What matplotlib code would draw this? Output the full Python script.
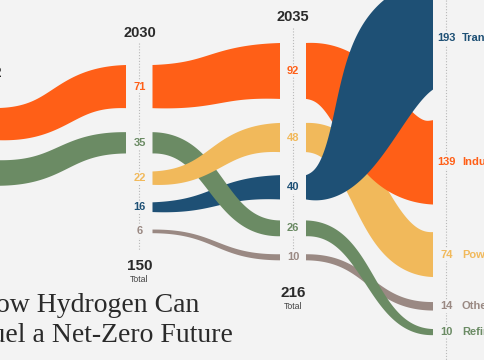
import matplotlib.pyplot as plt
import numpy as np
from matplotlib.patches import Polygon, Rectangle

# Hydrogen demand by sector (Mt), one value per year column, 0 = not shown
years = ["2022", "2030", "2035", "2050"]
sectors = ["Transport", "Industry", "Power", "Other", "Refining"]
transport = [0, 16, 40, 193]
industry = [53, 71, 92, 139]
power = [0, 22, 48, 74]
other = [0, 6, 10, 14]
refining = [42, 35, 26, 10]

values = {
    "Transport": transport,
    "Industry": industry,
    "Power": power,
    "Other": other,
    "Refining": refining,
}

colors = {
    "Transport": "#1e5075",
    "Industry": "#ff5f17",
    "Power": "#f1b95b",
    "Other": "#9a8983",
    "Refining": "#6b8b64",
}
BG = "#f3f3f3"
INK = "#2a2a2a"

# layout (pixels)
W, H = 485, 360
PX_PER_UNIT = 0.608
col_x = [-14, 139.5, 293, 446.5]
half_gap = 13
col_top = [108, 65, 43, -20.3]
col_gaps = [[20], [24, 18, 17.5, 17.5], [24, 23, 21, 18], [23, 27.5, 25, 18.5]]
year_y = [73, 33, 17, None]
dot_span = [None, (43, 250), (28, 263), (0, 360)]
total_offset = 33

# draw order per segment, bottom first
seg_order = [
    ["Refining", "Industry"],
    ["Other", "Industry", "Transport", "Refining", "Power"],
    ["Other", "Refining", "Power", "Industry", "Transport"],
]


def stack_column(i):
    """Top/bottom pixel of each sector in column i, largest on top."""
    present = [s for s in sectors if values[s][i] > 0]
    present.sort(key=lambda s: -values[s][i])
    out = {}
    y = col_top[i]
    for k, s in enumerate(present):
        h = values[s][i] * PX_PER_UNIT
        out[s] = (y, y + h)
        if k < len(col_gaps[i]):
            y += h + col_gaps[i][k]
    return out


def ribbon(ax, x0, a, x1, b, color, z):
    """Band along a bezier centreline, width measured across the curve."""
    (t0, b0), (t1, b1) = a, b
    c0, c1 = (t0 + b0) / 2, (t1 + b1) / 2
    w0, w1 = b0 - t0, b1 - t1
    t = np.linspace(0, 1, 400)[:, None]
    xm = (x0 + x1) / 2
    p0 = np.array([x0, c0])
    p1 = np.array([xm, c0])
    p2 = np.array([xm, c1])
    p3 = np.array([x1, c1])
    pts = (1 - t) ** 3 * p0 + 3 * (1 - t) ** 2 * t * p1 + 3 * (1 - t) * t ** 2 * p2 + t ** 3 * p3
    d = 3 * (1 - t) ** 2 * (p1 - p0) + 6 * (1 - t) * t * (p2 - p1) + 3 * t ** 2 * (p3 - p2)
    d = d / np.linalg.norm(d, axis=1, keepdims=True)
    n = np.column_stack([-d[:, 1], d[:, 0]])
    half = ((w0 + (w1 - w0) * t[:, 0]) / 2)[:, None]
    top = pts - n * half
    bot = pts + n * half
    band = Polygon(np.vstack([top, bot[::-1]]), closed=True,
                   fc=color, ec="none", zorder=z)
    ax.add_patch(band)
    # keep the band between its two columns
    clip = Rectangle((x0, -500), x1 - x0, 1500, transform=ax.transData)
    band.set_clip_path(clip)


fig = plt.figure(figsize=(W / 100, H / 100), dpi=100)
fig.patch.set_facecolor(BG)
ax = fig.add_axes([0, 0, 1, 1])
ax.set_facecolor(BG)
ax.set_xlim(0, W)
ax.set_ylim(H, 0)
ax.axis("off")

stacks = [stack_column(i) for i in range(len(years))]

# ribbons between columns
for i in range(len(years) - 1):
    x0 = col_x[i] + half_gap
    x1 = col_x[i + 1] - half_gap
    for z, s in enumerate(seg_order[i]):
        if s in stacks[i] and s in stacks[i + 1]:
            ribbon(ax, x0, stacks[i][s], x1, stacks[i + 1][s], colors[s], 2 + z)

lab_box = dict(boxstyle="square,pad=0.12", fc=BG, ec="none")
sans = "Liberation Sans"

for i, yr in enumerate(years):
    x = col_x[i]
    if dot_span[i] is not None:
        ax.plot([x, x], dot_span[i], color="#b8b8b8", lw=0.8,
                ls=(0, (1, 1.6)), zorder=1)
    if year_y[i] is not None:
        ax.text(x, year_y[i], yr, ha="center", va="center", fontsize=10.5,
                fontweight="bold", color=INK, family=sans, zorder=10)
    last = i == len(years) - 1
    for s, (top, bot) in stacks[i].items():
        yc = (top + bot) / 2
        ax.text(x, yc, str(values[s][i]), ha="center", va="center",
                fontsize=8, fontweight="bold", color=colors[s],
                family=sans, bbox=lab_box, zorder=10)
        if last:
            ax.text(x + 15.5, yc, s, ha="left", va="center", fontsize=8,
                    fontweight="bold", color=colors[s], family=sans, zorder=10)
    if 0 < i < len(years) - 1:
        total = sum(values[s][i] for s in sectors)
        bottom = max(b for _, b in stacks[i].values())
        ty = bottom + total_offset
        ax.text(x, ty, str(total), ha="center", va="center", fontsize=11,
                fontweight="bold", color=INK, family=sans, zorder=10)
        ax.text(x, ty + 13, "Total", ha="center", va="center", fontsize=6.3,
                color="#444444", family=sans, zorder=10)

# title
ax.text(-24, 312, "How Hydrogen Can", ha="left", va="baseline", fontsize=20,
        color=INK, family="Liberation Serif", zorder=10)
ax.text(-24, 342, "Fuel a Net-Zero Future", ha="left", va="baseline", fontsize=20,
        color=INK, family="Liberation Serif", zorder=10)

fig.savefig("out.png", dpi=100, facecolor=BG)
plt.close(fig)
